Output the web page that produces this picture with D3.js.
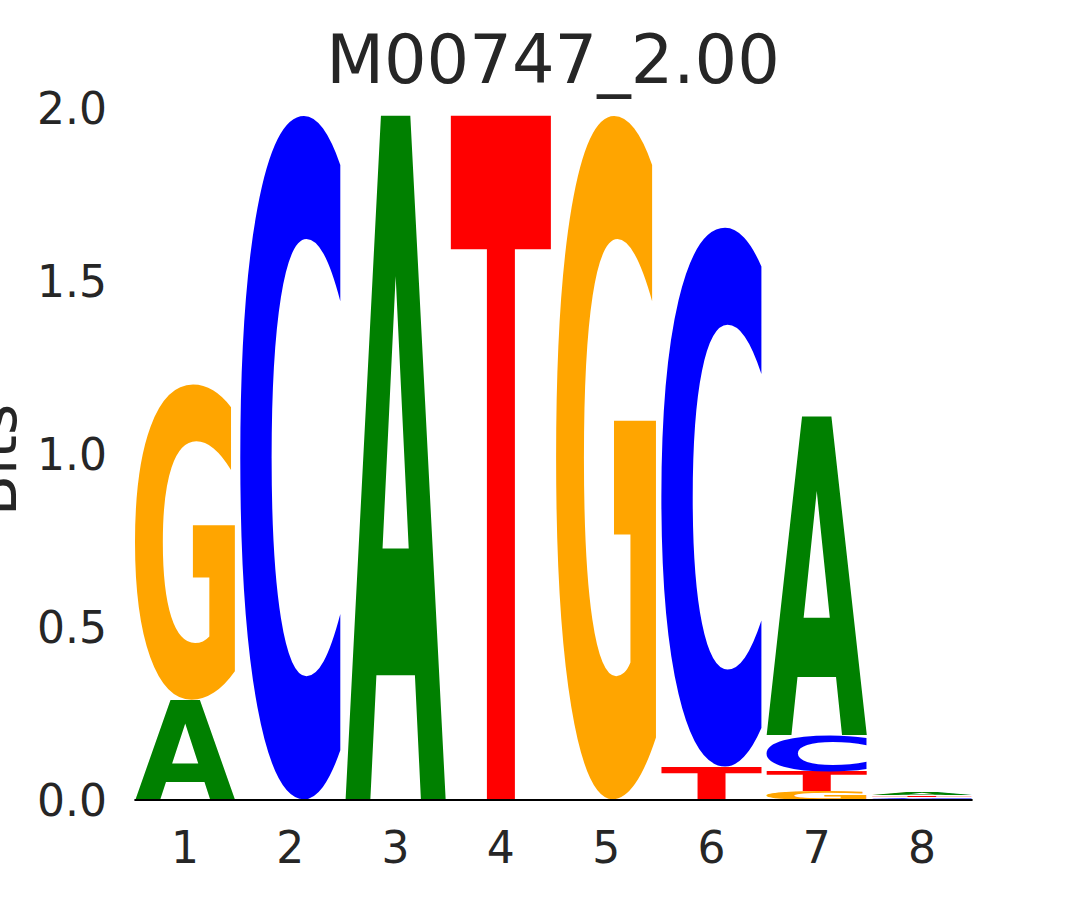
<!DOCTYPE html>
<head>
<meta charset="utf-8">
<style>
    body { margin: 0; background: #fff; }
    text { font-family: "DejaVu Sans", sans-serif; fill: #262626; }
</style>
<title>Sequence Logo</title>
</head>
<body>
<script src="https://d3js.org/d3.v7.min.js"></script>
<script>
    // motif heights in bits, one value per position
    const positions = [1, 2, 3, 4, 5, 6, 7, 8];
    const bitsA = [0.289, 0, 1.980, 0, 0, 0, 0.922, 0.007];
    const bitsC = [0, 1.980, 0, 0, 0, 1.561, 0.106, 0.005];
    const bitsG = [0.913, 0, 0, 0, 1.980, 0, 0.026, 0.004];
    const bitsT = [0, 0, 0, 1.980, 0, 0.095, 0.056, 0.005];
    const yTicks = [0, 0.5, 1, 1.5, 2];
    const title = 'M00747_2.00';

    const letterColor = { A: '#008000', C: '#0000ff', G: '#ffa500', T: '#ff0000' };

    const width = 1080, height = 900;

    const x = d3.scaleLinear().domain([0.5, 8.5]).range([132.4, 974.6]);
    const y = d3.scaleLinear().domain([0, 2]).range([800, 108]);
    const colW = (x(2) - x(1)) * 0.95;

    const svg = d3.select('body').append('svg')
        .attr('width', width)
        .attr('height', height);

    // glyphs are drawn at this size and then stretched to their box
    const FS = 600;

    // find the real ink box of each glyph by drawing it big and scanning pixels
    function inkBounds(letter) {
        const S = 1000, ox = 200, oy = 800;
        const cv = document.createElement('canvas');
        cv.width = S; cv.height = S;
        const c = cv.getContext('2d');
        c.font = `bold ${FS}px "DejaVu Sans"`;
        c.fillStyle = '#000';
        c.fillText(letter, ox, oy);
        const px = c.getImageData(0, 0, S, S).data;
        let x0 = S, x1 = -1, y0 = S, y1 = -1;
        for (let j = 0; j < S; j++) {
            for (let i = 0; i < S; i++) {
                if (px[(j * S + i) * 4 + 3] > 60) {
                    if (i < x0) x0 = i;
                    if (i > x1) x1 = i;
                    if (j < y0) y0 = j;
                    if (j > y1) y1 = j;
                }
            }
        }
        return {
            left: x0 - ox, right: x1 + 1 - ox,
            top: y0 - oy, bottom: y1 + 1 - oy,
        };
    }
    const ink = {};
    'ACGT'.split('').forEach((l) => { ink[l] = inkBounds(l); });

    // build the stacks, smallest at the bottom
    const stacks = positions.map((p, i) => {
        const col = [
            { l: 'A', v: bitsA[i] }, { l: 'C', v: bitsC[i] },
            { l: 'G', v: bitsG[i] }, { l: 'T', v: bitsT[i] },
        ].filter(d => d.v > 0).sort((a, b) => a.v - b.v);
        let base = 0;
        col.forEach((d) => { d.y0 = base; base += d.v; d.y1 = base; d.pos = p; });
        return col;
    });

    const logo = svg.append('g');
    stacks.flat().forEach((d) => {
        const b = ink[d.l];
        const x0 = x(d.pos) - colW / 2;
        const top = y(d.y1);
        const h = y(d.y0) - y(d.y1);
        const sx = colW / (b.right - b.left);
        const sy = h / (b.bottom - b.top);
        logo.append('text')
            .attr('transform', `translate(${x0},${top}) scale(${sx},${sy}) translate(${-b.left},${-b.top})`)
            .attr('font-size', FS)
            .attr('font-weight', 'bold')
            .style('fill', letterColor[d.l])
            .text(d.l);
    });

    // baseline
    svg.append('line')
        .attr('x1', x(0.5) + 2).attr('x2', x(8.5) - 2)
        .attr('y1', y(0)).attr('y2', y(0))
        .attr('stroke', '#000').attr('stroke-width', 2);

    // y axis labels (no axis line in this style)
    svg.append('g').selectAll('text')
        .data(yTicks)
        .join('text')
        .attr('x', 107)
        .attr('y', d => y(d) + 16)
        .attr('text-anchor', 'end')
        .attr('font-size', 44)
        .text(d => d.toFixed(1));

    // x axis labels
    svg.append('g').selectAll('text')
        .data(positions)
        .join('text')
        .attr('x', d => x(d))
        .attr('y', 863)
        .attr('text-anchor', 'middle')
        .attr('font-size', 44)
        .text(d => d);

    svg.append('text')
        .attr('transform', 'translate(16,460) rotate(-90)')
        .attr('text-anchor', 'middle')
        .attr('font-size', 60)
        .text('Bits');

    svg.append('text')
        .attr('x', 553)
        .attr('y', 83)
        .attr('text-anchor', 'middle')
        .attr('font-size', 67)
        .text(title);
</script>
</body>
